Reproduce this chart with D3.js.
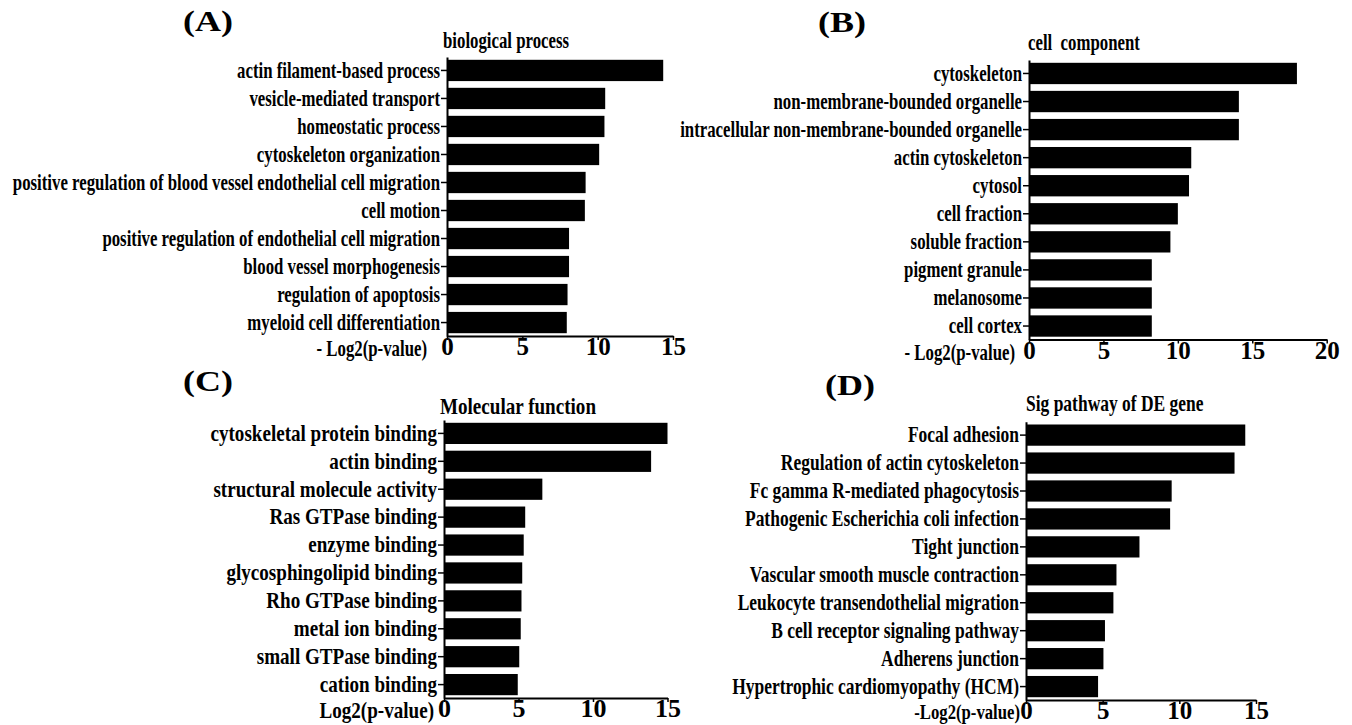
<!DOCTYPE html>
<html>
<head>
<meta charset="utf-8">
<script src="https://cdn.jsdelivr.net/npm/d3@7/dist/d3.min.js"></script>
<style>
  html, body { margin: 0; padding: 0; background: #fff; }
  svg { display: block; }
  text { font-family: "Liberation Serif", "Times New Roman", serif; font-weight: bold; fill: #000; white-space: pre; }
</style>
</head>
<body>
<svg id="chart" width="1352" height="725"></svg>
<script>
// GO enrichment: -log2(p-value) per term
const bpTerms = [
  "actin filament-based process",
  "vesicle-mediated transport",
  "homeostatic process",
  "cytoskeleton organization",
  "positive regulation of blood vessel endothelial cell migration",
  "cell motion",
  "positive regulation of endothelial cell migration",
  "blood vessel morphogenesis",
  "regulation of apoptosis",
  "myeloid cell differentiation"
];
const bpValues = [14.35, 10.5, 10.45, 10.1, 9.2, 9.15, 8.1, 8.1, 8.0, 7.95];

const ccTerms = [
  "cytoskeleton",
  "non-membrane-bounded organelle",
  "intracellular non-membrane-bounded organelle",
  "actin cytoskeleton",
  "cytosol",
  "cell fraction",
  "soluble fraction",
  "pigment granule",
  "melanosome",
  "cell cortex"
];
const ccValues = [18.0, 14.1, 14.1, 10.9, 10.75, 10.0, 9.5, 8.25, 8.25, 8.25];

const mfTerms = [
  "cytoskeletal protein binding",
  "actin binding",
  "structural molecule activity",
  "Ras GTPase binding",
  "enzyme binding",
  "glycosphingolipid binding",
  "Rho GTPase binding",
  "metal ion binding",
  "small GTPase binding",
  "cation binding"
];
const mfValues = [15.0, 13.9, 6.6, 5.45, 5.35, 5.25, 5.2, 5.15, 5.05, 4.95];

const kgTerms = [
  "Focal adhesion",
  "Regulation of actin cytoskeleton",
  "Fc gamma R-mediated phagocytosis",
  "Pathogenic Escherichia coli infection",
  "Tight junction",
  "Vascular smooth muscle contraction",
  "Leukocyte transendothelial migration",
  "B cell receptor signaling pathway",
  "Adherens junction",
  "Hypertrophic cardiomyopathy (HCM)"
];
const kgValues = [14.3, 13.6, 9.5, 9.4, 7.4, 5.9, 5.7, 5.15, 5.05, 4.7];

const ticks15 = [0, 5, 10, 15];
const ticks20 = [0, 5, 10, 15, 20];

const svg = d3.select("#chart");

// text drawn with a horizontal squeeze (condensed serif look)
function condensedText(parent, str, x, y, size, sx, anchor) {
  return parent.append("text")
    .attr("transform", `translate(${x},${y}) scale(${sx},1)`)
    .attr("font-size", size)
    .attr("text-anchor", anchor || "start")
    .text(str);
}

function drawPanel(p) {
  const g = svg.append("g");
  const x = d3.scaleLinear().domain([0, p.ticks[p.ticks.length - 1]]).range([p.x0, p.x1]);
  const y = d3.scaleBand().domain(p.terms).range([p.yTop, p.yAxis])
    .paddingInner(0.24).paddingOuter(0.1);

  const rows = p.terms.map((t, i) => ({ term: t, value: p.values[i] }));

  g.append("g").selectAll("rect").data(rows).join("rect")
    .attr("x", x(0))
    .attr("y", d => y(d.term))
    .attr("width", d => x(d.value) - x(0))
    .attr("height", y.bandwidth())
    .attr("fill", "#000");

  // category axis
  const ya = g.append("g")
    .attr("transform", `translate(${x(0)},0)`)
    .call(d3.axisLeft(y).tickSize(6).tickSizeOuter(0));
  ya.select(".domain").attr("stroke-width", 2);
  ya.selectAll(".tick line").attr("stroke-width", 1.5);
  ya.selectAll(".tick text")
    .attr("font-size", p.fs)
    .attr("x", -7 / p.sx)
    .attr("dy", "0.32em")
    .attr("transform", `scale(${p.sx},1)`);
  ya.attr("font-family", null).attr("font-size", null);

  // value axis
  const xa = g.append("g")
    .attr("transform", `translate(0,${p.yAxis})`)
    .call(d3.axisBottom(x).tickValues(p.ticks).tickSize(4).tickSizeOuter(0));
  xa.select(".domain").attr("stroke-width", 2);
  xa.selectAll(".tick line").attr("stroke-width", 1.5);
  xa.selectAll(".tick text")
    .attr("font-size", p.tickFs)
    .attr("y", p.tickBase)
    .attr("dy", 0);
  xa.attr("font-family", null).attr("font-size", null);

  condensedText(g, p.xTitle, p.xTitleX, p.yAxis + p.xTitleBase, p.xTitleFs, p.sx, "end");
  condensedText(g, p.title, p.titleX, p.titleY, p.fs, p.sx, "start");
  condensedText(g, p.letter, p.letterX, p.letterY, 30, 1.2, "start");
}

drawPanel({
  terms: bpTerms, values: bpValues, ticks: ticks15,
  x0: 447, x1: 673, yTop: 57, yAxis: 336,
  fs: 23, sx: 0.73, tickFs: 25, tickBase: 19,
  title: "biological process", titleX: 443, titleY: 48,
  xTitle: "- Log2(p-value)", xTitleX: 427, xTitleBase: 20, xTitleFs: 23,
  letter: "(A)", letterX: 183, letterY: 31
});

drawPanel({
  terms: ccTerms, values: ccValues, ticks: ticks20,
  x0: 1029, x1: 1326.7, yTop: 60, yAxis: 339.5,
  fs: 23, sx: 0.73, tickFs: 25, tickBase: 19,
  title: "cell  component", titleX: 1028, titleY: 50,
  xTitle: "- Log2(p-value)", xTitleX: 1015, xTitleBase: 20, xTitleFs: 23,
  letter: "(B)", letterX: 818, letterY: 32
});

drawPanel({
  terms: mfTerms, values: mfValues, ticks: ticks15,
  x0: 444, x1: 667.5, yTop: 420, yAxis: 698,
  fs: 23, sx: 0.83, tickFs: 26, tickBase: 19,
  title: "Molecular function", titleX: 440, titleY: 414,
  xTitle: "Log2(p-value)", xTitleX: 434, xTitleBase: 20, xTitleFs: 23,
  letter: "(C)", letterX: 183, letterY: 391
});

drawPanel({
  terms: kgTerms, values: kgValues, ticks: ticks15,
  x0: 1026, x1: 1256, yTop: 421.7, yAxis: 700,
  fs: 23, sx: 0.76, tickFs: 25, tickBase: 19,
  title: "Sig pathway of DE gene", titleX: 1026, titleY: 411,
  xTitle: "-Log2(p-value)", xTitleX: 1020, xTitleBase: 19, xTitleFs: 22,
  letter: "(D)", letterX: 825, letterY: 395
});
</script>
</body>
</html>
